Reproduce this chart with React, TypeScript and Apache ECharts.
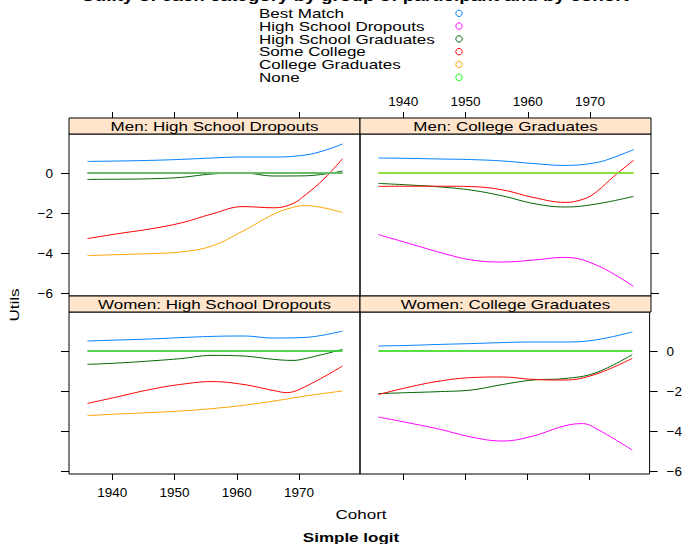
import React, { useEffect, useRef } from 'react';
import * as echarts from 'echarts';

// ---------- data ----------
const categories = [
  'Best Match',
  'High School Dropouts',
  'High School Graduates',
  'Some College',
  'College Graduates',
  'None',
];
const categoryColors = ['#0080ff', '#ff00ff', '#006400', '#ff0000', '#ffa500', '#00ff00'];
const panelTitles = [
  'Men: High School Dropouts',
  'Men: College Graduates',
  'Women: High School Dropouts',
  'Women: College Graduates',
];
const xTicks = [1940, 1950, 1960, 1970];
const yTicks = [-6, -4, -2, 0];
const xRange = [1933.04, 1979.8];
const yRange = [-6.15, 1.95];

type P = [number, number][];

// Men: High School Dropouts
const menHsdBest: P = [[1936, 0.58], [1941, 0.6], [1946, 0.63], [1951, 0.68], [1956, 0.75], [1961, 0.8], [1966, 0.8], [1971, 0.9], [1974, 1.12], [1977, 1.45]];
const menHsdHsd: P = [[1936, 0], [1977, 0]];
const menHsdHsg: P = [[1936, -0.32], [1941, -0.31], [1946, -0.29], [1951, -0.22], [1956, -0.05], [1961, 0.0], [1966, -0.15], [1971, -0.14], [1977, 0.1]];
const menHsdSc: P = [[1936, -3.28], [1941, -3.03], [1946, -2.8], [1951, -2.5], [1956, -2.05], [1961, -1.68], [1966, -1.74], [1969, -1.53], [1971, -1.1], [1974, -0.3], [1977, 0.72]];
const menHsdCg: P = [[1936, -4.13], [1941, -4.08], [1946, -4.03], [1951, -3.95], [1956, -3.65], [1961, -2.9], [1966, -2.05], [1969, -1.72], [1971, -1.63], [1977, -1.98]];
const menHsdNone: P = [[1936, 0], [1977, 0]];

// Men: College Graduates
const menCgBest: P = [[1936, 0.75], [1941, 0.73], [1946, 0.7], [1951, 0.67], [1956, 0.6], [1961, 0.47], [1966, 0.38], [1971, 0.52], [1974, 0.8], [1977, 1.17]];
const menCgHsd: P = [[1936, -3.08], [1941, -3.53], [1946, -3.98], [1951, -4.35], [1956, -4.45], [1961, -4.35], [1966, -4.22], [1971, -4.6], [1977, -5.67]];
const menCgHsg: P = [[1936, -0.52], [1941, -0.6], [1946, -0.7], [1951, -0.86], [1956, -1.15], [1961, -1.53], [1966, -1.7], [1971, -1.55], [1977, -1.17]];
const menCgSc: P = [[1936, -0.67], [1941, -0.66], [1946, -0.66], [1951, -0.68], [1956, -0.85], [1961, -1.23], [1966, -1.47], [1969, -1.3], [1971, -0.95], [1974, -0.12], [1977, 0.63]];
const menCgCg: P = [[1936, 0], [1977, 0]];
const menCgNone: P = [[1936, 0], [1977, 0]];

// Women: High School Dropouts
const womenHsdBest: P = [[1936, 0.5], [1941, 0.55], [1946, 0.6], [1951, 0.67], [1956, 0.73], [1961, 0.75], [1966, 0.65], [1971, 0.68], [1977, 1.0]];
const womenHsdHsd: P = [[1936, 0], [1977, 0]];
const womenHsdHsg: P = [[1936, -0.67], [1941, -0.6], [1946, -0.5], [1951, -0.38], [1956, -0.22], [1961, -0.25], [1966, -0.42], [1969, -0.47], [1971, -0.38], [1977, 0.08]];
const womenHsdSc: P = [[1936, -2.62], [1941, -2.28], [1946, -1.93], [1951, -1.67], [1956, -1.53], [1961, -1.67], [1966, -1.98], [1968, -2.08], [1971, -1.78], [1977, -0.75]];
const womenHsdCg: P = [[1936, -3.23], [1941, -3.15], [1946, -3.08], [1951, -3.0], [1956, -2.88], [1961, -2.72], [1966, -2.5], [1971, -2.25], [1977, -2.0]];
const womenHsdNone: P = [[1936, 0], [1977, 0]];

// Women: College Graduates
const womenCgBest: P = [[1936, 0.25], [1941, 0.28], [1946, 0.33], [1951, 0.37], [1956, 0.42], [1961, 0.45], [1966, 0.45], [1971, 0.55], [1977, 0.95]];
const womenCgHsd: P = [[1936, -3.3], [1941, -3.6], [1946, -3.92], [1951, -4.3], [1956, -4.5], [1961, -4.25], [1966, -3.75], [1969, -3.63], [1971, -3.85], [1977, -4.95]];
const womenCgHsg: P = [[1936, -2.13], [1941, -2.08], [1946, -2.03], [1951, -1.95], [1956, -1.68], [1961, -1.45], [1966, -1.38], [1971, -1.1], [1977, -0.18]];
const womenCgSc: P = [[1936, -2.18], [1941, -1.8], [1946, -1.5], [1951, -1.33], [1956, -1.3], [1961, -1.42], [1966, -1.45], [1971, -1.17], [1977, -0.37]];
const womenCgCg: P = [[1936, 0], [1977, 0]];
const womenCgNone: P = [[1936, 0], [1977, 0]];

const panelData: P[][] = [
  [menHsdBest, menHsdHsd, menHsdHsg, menHsdSc, menHsdCg, menHsdNone],
  [menCgBest, menCgHsd, menCgHsg, menCgSc, menCgCg, menCgNone],
  [womenHsdBest, womenHsdHsd, womenHsdHsg, womenHsdSc, womenHsdCg, womenHsdNone],
  [womenCgBest, womenCgHsd, womenCgHsg, womenCgSc, womenCgCg, womenCgNone],
];

// ---------- layout / style ----------
const FONT = 'Liberation Sans';
const SX = 1.31;
const panelBoxes = [
  { left: 69, top: 134 },
  { left: 360, top: 134 },
  { left: 69, top: 312 },
  { left: 360, top: 312 },
];
const PW = 291;
const PH = 162;
const STRIP = 16;
// the reference group's own line sits at 0 under the "None" line
const noneStyles = [
  { color: '#6cba6c', width: 2, refWidth: 1 },
  { color: '#8ee040', width: 2, refWidth: 1 },
  { color: '#1ee01e', width: 1.4, refWidth: 0.6 },
  { color: '#1ee01e', width: 1.4, refWidth: 0.6 },
];
const refIndex = [1, 4, 1, 4];

const minusFmt = (v: number) => String(v).replace('-', '\u2212');
const yearFmt = (v: number) => String(Math.round(v));

function makeText(text: string, x: number, y: number, opts: any = {}) {
  const align = opts.align || 'center';
  return {
    type: 'text',
    x,
    y,
    scaleX: opts.scaleX ?? SX,
    rotation: opts.rotation || 0,
    silent: true,
    style: {
      text,
      fill: '#000',
      fontFamily: FONT,
      fontSize: opts.fontSize || 13,
      fontWeight: opts.bold ? 'bold' : 'normal',
      align,
      textAlign: align,
      verticalAlign: 'middle',
      textVerticalAlign: 'middle',
    },
  };
}

function buildOption() {
  const grid = panelBoxes.map((b) => ({
    left: b.left,
    top: b.top,
    width: PW,
    height: PH,
    show: true,
    borderColor: '#000',
    borderWidth: 1,
    backgroundColor: 'transparent',
    containLabel: false,
  }));

  const labelStyle = { fontFamily: FONT, fontSize: 13.5, color: '#000' };
  const tickStyle = { color: '#000', width: 1 };

  const xCfg = [
    { pos: 'top', offset: STRIP, labels: false },
    { pos: 'top', offset: STRIP, labels: true },
    { pos: 'bottom', offset: 0, labels: true },
    { pos: 'bottom', offset: 0, labels: false },
  ];
  const yCfg = [
    { pos: 'left', labels: true },
    { pos: 'right', labels: false },
    { pos: 'left', labels: false },
    { pos: 'right', labels: true },
  ];

  const xAxis = xCfg.map((c, i) => ({
    gridIndex: i,
    type: 'value',
    min: xRange[0],
    max: xRange[1],
    position: c.pos,
    offset: c.offset,
    axisLine: { show: false, onZero: false },
    axisTick: { show: true, length: 6, customValues: xTicks, lineStyle: tickStyle },
    axisLabel: {
      show: c.labels,
      customValues: xTicks,
      margin: c.pos === 'top' ? 10 : 11,
      formatter: yearFmt,
      ...labelStyle,
    },
    splitLine: { show: false },
  }));

  const yAxis = yCfg.map((c, i) => ({
    gridIndex: i,
    type: 'value',
    min: yRange[0],
    max: yRange[1],
    position: c.pos,
    axisLine: { show: false, onZero: false },
    axisTick: { show: true, length: 8, customValues: yTicks, lineStyle: tickStyle },
    axisLabel: {
      show: c.labels,
      customValues: yTicks,
      margin: c.pos === 'left' ? 16 : 17,
      formatter: minusFmt,
      ...labelStyle,
    },
    splitLine: { show: false },
  }));

  const series: any[] = [];
  panelData.forEach((groups, pi) => {
    groups.forEach((data, gi) => {
      const isNone = gi === categories.length - 1;
      const isRef = gi === refIndex[pi];
      series.push({
        type: 'line',
        name: categories[gi],
        xAxisIndex: pi,
        yAxisIndex: pi,
        data,
        smooth: 0.4,
        symbol: 'none',
        showSymbol: false,
        silent: true,
        clip: true,
        z: 2 + gi,
        lineStyle: isNone
          ? { color: noneStyles[pi].color, width: noneStyles[pi].width }
          : { color: categoryColors[gi], width: isRef ? noneStyles[pi].refWidth : 1 },
      });
    });
  });

  const graphic: any[] = [];
  // title (mostly cut off at the top edge, as in the reference)
  graphic.push(
    makeText('Utility of each category by group of participant and by cohort', 355, -3.5, {
      bold: true,
      fontSize: 14.4,
    })
  );
  // key
  const keyY0 = 13.3;
  const keyStep = 12.8;
  categories.forEach((name, i) => {
    const y = keyY0 + i * keyStep;
    graphic.push(makeText(name, 259, y, { align: 'left' }));
    graphic.push({
      type: 'circle',
      silent: true,
      shape: { cx: 459, cy: y, r: 3.2 },
      style: { fill: 'none', stroke: categoryColors[i], lineWidth: 1 },
    });
  });
  // strips
  panelBoxes.forEach((b, i) => {
    graphic.push({
      type: 'rect',
      silent: true,
      shape: { x: b.left, y: b.top - STRIP, width: PW, height: STRIP },
      style: { fill: '#ffe5cc', stroke: '#000', lineWidth: 1 },
      z: 10,
    });
    const t: any = makeText(panelTitles[i], b.left + PW / 2, b.top - STRIP / 2);
    t.z = 11;
    graphic.push(t);
  });
  // axis titles
  graphic.push(makeText('Utils', 14, 305, { rotation: Math.PI / 2 }));
  graphic.push(makeText('Cohort', 361, 514));
  graphic.push(makeText('Simple logit', 351, 537, { bold: true }));

  return {
    animation: false,
    grid,
    xAxis,
    yAxis,
    series,
    graphic: { elements: graphic },
  };
}

export default function App() {
  const ref = useRef<HTMLDivElement>(null);
  useEffect(() => {
    if (!ref.current) return;
    const chart = echarts.init(ref.current, undefined, { renderer: 'svg' });
    chart.setOption(buildOption() as any);
    return () => chart.dispose();
  }, []);
  return (
    <div
      ref={ref}
      style={{ position: 'fixed', left: 0, top: 0, width: 685, height: 544, background: '#fff' }}
    />
  );
}
